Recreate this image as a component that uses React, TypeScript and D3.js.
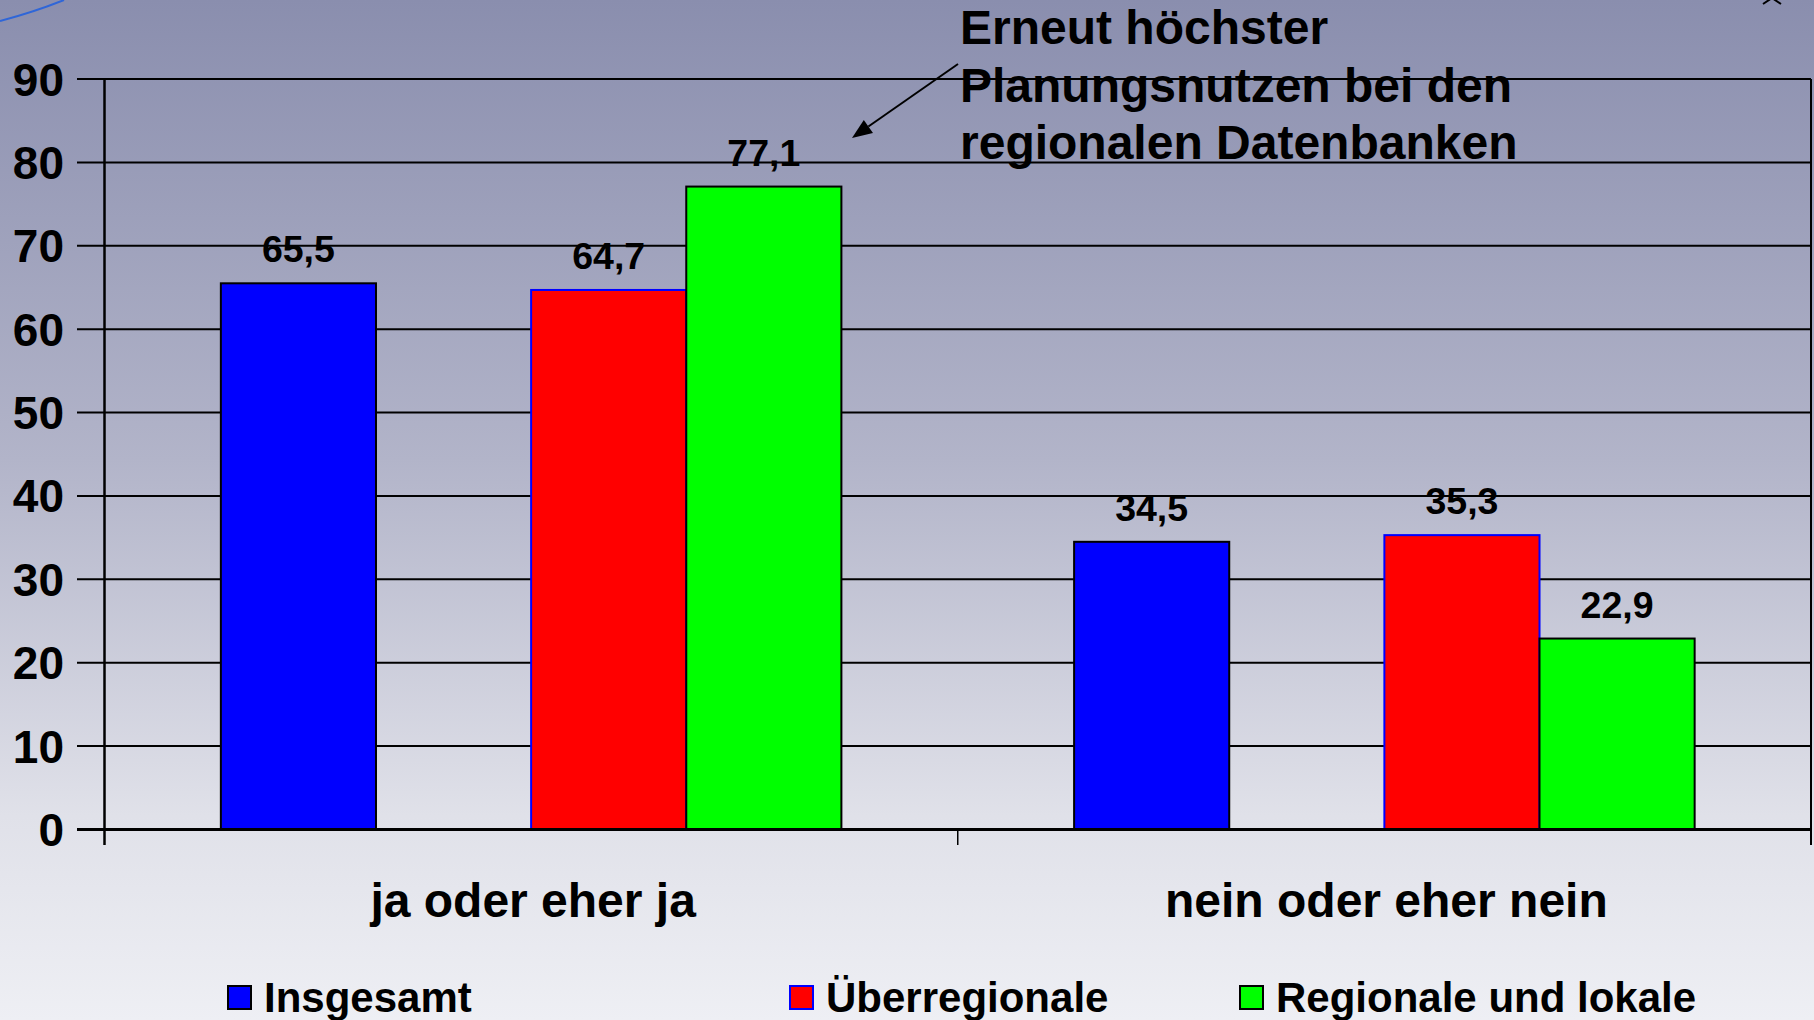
import React from 'react';
import * as d3 from 'd3';

const categories = ['ja oder eher ja', 'nein oder eher nein'];
// the second slot of each group stays empty in the original chart
const slots = ['Insgesamt', '', 'Überregionale', 'Regionale und lokale'];
const insgesamt = [65.5, 34.5];
const ueberregionale = [64.7, 35.3];
const regionale = [77.1, 22.9];
const yTicks = [0, 10, 20, 30, 40, 50, 60, 70, 80, 90];
const noteLines = ['Erneut höchster', 'Planungsnutzen bei den', 'regionalen Datenbanken'];

const seriesFill: Record<string, string> = {
  Insgesamt: '#0000ff',
  'Überregionale': '#ff0000',
  'Regionale und lokale': '#00ff00',
};
const seriesStroke: Record<string, string> = {
  Insgesamt: '#000000',
  'Überregionale': '#0000ff',
  'Regionale und lokale': '#000000',
};

const W = 1814;
const H = 1020;
const FONT = '"Liberation Sans", Arial, sans-serif';

export default function App() {
  const left = 104.5;
  const right = 1811;
  const top = 79;
  const bottom = 829.5;

  const y = d3.scaleLinear().domain([0, 90]).range([bottom, top]);
  const x0 = d3.scaleBand<string>().domain(categories).range([left, right]).padding(0);
  const x1 = d3.scaleBand<string>()
    .domain(slots)
    .range([0, x0.bandwidth()])
    .paddingInner(0)
    .paddingOuter(0.75);

  const values: Record<string, number[]> = {
    Insgesamt: insgesamt,
    'Überregionale': ueberregionale,
    'Regionale und lokale': regionale,
  };

  const bars = categories.flatMap((c, i) =>
    slots.filter((s) => s !== '').map((s) => ({ cat: c, series: s, v: values[s][i] }))
  );

  const fmt = (v: number) => v.toFixed(1).replace('.', ',');

  const legend = [
    { name: 'Insgesamt', x: 228 },
    { name: 'Überregionale', x: 790 },
    { name: 'Regionale und lokale', x: 1240 },
  ];

  // arrow from the note down to the tallest bar
  const a0 = [958, 64];
  const a1 = [852, 138];
  const ang = Math.atan2(a1[1] - a0[1], a1[0] - a0[0]);
  const hl = 20;
  const hw = 8;
  const bx = a1[0] - hl * Math.cos(ang);
  const by = a1[1] - hl * Math.sin(ang);
  const head = [
    [a1[0], a1[1]],
    [bx + hw * Math.sin(ang), by - hw * Math.cos(ang)],
    [bx - hw * Math.sin(ang), by + hw * Math.cos(ang)],
  ];

  return (
    <svg
      width={W}
      height={H}
      style={{ position: 'fixed', left: 0, top: 0, display: 'block' }}
      fontFamily={FONT}
      fontWeight="bold"
    >
      <defs>
        <linearGradient id="bg" x1="0" y1="0" x2="0" y2="1">
          <stop offset="0" stopColor="#8a8eae" />
          <stop offset="0.45" stopColor="#b2b4c9" />
          <stop offset="0.8" stopColor="#e0e1e9" />
          <stop offset="1" stopColor="#eeeff4" />
        </linearGradient>
      </defs>
      <rect x={0} y={0} width={W} height={H} fill="url(#bg)" />

      {/* decorative remnants of the slide */}
      <path d="M0,21 Q34,12 64,0" fill="none" stroke="#2f66d8" strokeWidth={2} />
      <path d="M1763,4 L1772,-2 L1781,4" fill="none" stroke="#000" strokeWidth={2} />

      {/* gridlines */}
      {yTicks.map((t) => (
        <line
          key={'g' + t}
          x1={77}
          x2={right}
          y1={y(t)}
          y2={y(t)}
          stroke="#000"
          strokeWidth={t === 0 ? 3 : 2}
        />
      ))}

      {/* bars */}
      {bars.map((b) => (
        <rect
          key={b.cat + b.series}
          x={(x0(b.cat) ?? 0) + (x1(b.series) ?? 0)}
          y={y(b.v)}
          width={x1.bandwidth()}
          height={y(0) - y(b.v)}
          fill={seriesFill[b.series]}
          stroke={seriesStroke[b.series]}
          strokeWidth={2}
        />
      ))}

      {/* axes frame */}
      <line x1={left} x2={left} y1={top} y2={845} stroke="#000" strokeWidth={2.5} />
      <line x1={right} x2={right} y1={top} y2={845} stroke="#000" strokeWidth={2} />
      {categories.slice(1).map((c) => (
        <line key={'t' + c} x1={x0(c)} x2={x0(c)} y1={bottom} y2={845} stroke="#000" strokeWidth={1.5} />
      ))}
      <line x1={left} x2={right} y1={bottom} y2={bottom} stroke="#000" strokeWidth={3} />

      {/* y tick labels */}
      {yTicks.map((t) => (
        <text key={'l' + t} x={64} y={y(t) + 16.5} textAnchor="end" fontSize={46} fill="#000">
          {t}
        </text>
      ))}

      {/* value labels */}
      {bars.map((b) => (
        <text
          key={'v' + b.cat + b.series}
          x={(x0(b.cat) ?? 0) + (x1(b.series) ?? 0) + x1.bandwidth() / 2}
          y={y(b.v) - 21}
          textAnchor="middle"
          fontSize={37.5}
          fill="#000"
        >
          {fmt(b.v)}
        </text>
      ))}

      {/* category labels */}
      {categories.map((c) => (
        <text
          key={'c' + c}
          x={(x0(c) ?? 0) + x0.bandwidth() / 2 + 2}
          y={917}
          textAnchor="middle"
          fontSize={48}
          fill="#000"
        >
          {c}
        </text>
      ))}

      {/* annotation */}
      {noteLines.map((l, i) => (
        <text key={'n' + i} x={960} y={44 + i * 57.5} fontSize={48} fill="#000">
          {l}
        </text>
      ))}
      <line x1={a0[0]} y1={a0[1]} x2={bx} y2={by} stroke="#000" strokeWidth={2} />
      <polygon points={head.map((p) => p.join(',')).join(' ')} fill="#000" />

      {/* legend */}
      {legend.map((l) => (
        <g key={'lg' + l.name}>
          <rect
            x={l.x}
            y={986}
            width={23}
            height={23}
            fill={seriesFill[l.name]}
            stroke={seriesStroke[l.name]}
            strokeWidth={2}
          />
          <text x={l.x + 36} y={1012} fontSize={42} fill="#000">
            {l.name}
          </text>
        </g>
      ))}
    </svg>
  );
}
